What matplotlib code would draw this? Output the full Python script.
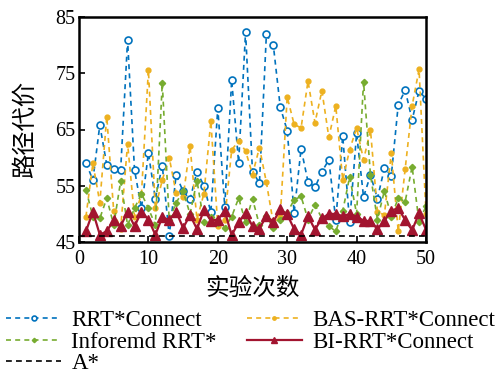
import matplotlib
matplotlib.use("Agg")
import matplotlib.pyplot as plt

trials = list(range(1, 51))

rrt_connect = [59.1, 56.0, 65.8, 58.7, 58.0, 57.8, 80.9, 57.8, 51.0, 60.8,
               52.7, 58.6, 46.1, 56.9, 54.0, 52.6, 57.5, 55.0, 50.3, 68.8,
               51.3, 73.8, 59.1, 82.3, 57.5, 55.5, 81.9, 80.0, 69.0, 64.8,
               50.2, 61.6, 55.7, 54.7, 57.5, 59.6, 48.9, 63.8, 48.5, 64.3,
               53.0, 56.9, 52.7, 58.1, 56.8, 69.4, 72.0, 66.7, 71.9, 70.4]

bas_rrt_connect = [49.5, 59.0, 52.0, 67.3, 50.5, 47.3, 62.5, 49.5, 53.5, 75.6,
                   51.0, 56.0, 60.0, 53.7, 53.0, 62.0, 49.0, 53.6, 66.5, 47.8,
                   49.0, 61.4, 62.9, 61.2, 57.0, 61.8, 55.6, 48.3, 49.5, 70.8,
                   65.9, 65.3, 73.6, 66.2, 71.9, 63.6, 69.2, 56.0, 61.4, 65.3,
                   59.6, 64.9, 50.4, 49.8, 60.8, 46.9, 58.0, 69.2, 75.7, 50.0]

informed_rrt = [54.3, 49.5, 49.2, 52.8, 48.0, 55.8, 48.0, 51.0, 53.6, 51.0,
                48.0, 73.3, 48.9, 52.0, 54.0, 50.0, 55.9, 48.5, 49.5, 48.3,
                47.5, 49.5, 52.8, 48.5, 52.7, 48.0, 49.6, 47.5, 49.0, 50.2,
                52.5, 53.1, 49.0, 51.6, 49.2, 47.8, 46.9, 50.5, 56.6, 50.0,
                73.5, 56.9, 49.0, 54.1, 49.5, 52.8, 52.2, 58.4, 48.5, 51.4]

bi_rrt_connect = [46.9, 50.4, 46.3, 46.9, 48.9, 47.8, 50.4, 47.8, 50.4, 49.0,
                  46.3, 49.4, 48.9, 50.4, 47.5, 49.8, 47.3, 50.7, 48.8, 49.0,
                  50.5, 46.2, 48.5, 50.2, 47.8, 47.4, 49.6, 48.6, 50.8, 49.9,
                  47.3, 46.3, 49.6, 47.2, 49.2, 50.0, 50.0, 49.6, 50.0, 49.5,
                  48.8, 48.7, 47.3, 48.7, 50.6, 51.0, 48.9, 47.1, 50.1, 47.2]

a_star = 46.0

labels = ["RRT*Connect", "BAS-RRT*Connect", "Inforemd RRT*", "BI-RRT*Connect", "A*"]
xticks = [0, 10, 20, 30, 40, 50]
yticks = [45, 55, 65, 75, 85]

serif = ["Liberation Serif", "Noto Sans CJK SC"]
plt.rcParams["font.family"] = serif

fig = plt.figure(figsize=(4.98, 3.74), dpi=100)
ax = fig.add_axes([79/498, 1-242/374, (426-79)/498, (242-17)/374])

c_blue = "#0072BD"
c_orange = "#EDB120"
c_green = "#77AC30"
c_red = "#A2142F"

h1, = ax.plot(trials, rrt_connect, "--", color=c_blue, lw=1.2, marker="o",
              ms=5, mfc="white", mec=c_blue, mew=1.2, dashes=(3, 2.5))
h2, = ax.plot(trials, bas_rrt_connect, "--", color=c_orange, lw=1.2, marker="o",
              ms=3.5, mfc=c_orange, mec=c_orange, dashes=(3, 2.5))
h3, = ax.plot(trials, informed_rrt, "--", color=c_green, lw=1.2, marker="D",
              ms=3.2, mfc=c_green, mec=c_green, dashes=(3, 2.5))
h4, = ax.plot(trials, bi_rrt_connect, "-", color=c_red, lw=1.6, marker="^",
              ms=6.5, mfc=c_red, mec=c_red)
h5 = ax.axhline(a_star, color="black", lw=1.2, ls="--", dashes=(3.5, 2.5))

ax.set_xlim(0, 50)
ax.set_ylim(45, 85)
ax.set_xticks(xticks)
ax.set_yticks(yticks)
ax.tick_params(direction="in", labelsize=14.5, width=1.2, length=4.5,
               top=False, right=False)
ax.tick_params(axis="x", pad=6)
ax.tick_params(axis="y", pad=2.5)
for s in ax.spines.values():
    s.set_linewidth(1.8)

ax.set_xlabel("实验次数", fontsize=17, labelpad=6)
ax.set_ylabel("路径代价", fontsize=17.5, labelpad=13)

handles = [h1, h3, h5, h2, h4]
hl = [labels[0], labels[2], labels[4], labels[1], labels[3]]
fig.legend(handles, hl, loc="upper left", bbox_to_anchor=(6/498, 1-310/374),
           ncol=2, frameon=False, fontsize=16.5, handlelength=2.4,
           handletextpad=0.45, columnspacing=1.3, labelspacing=0.02,
           borderpad=0, borderaxespad=0, markerscale=0.7)

fig.savefig("out.png", dpi=100)
